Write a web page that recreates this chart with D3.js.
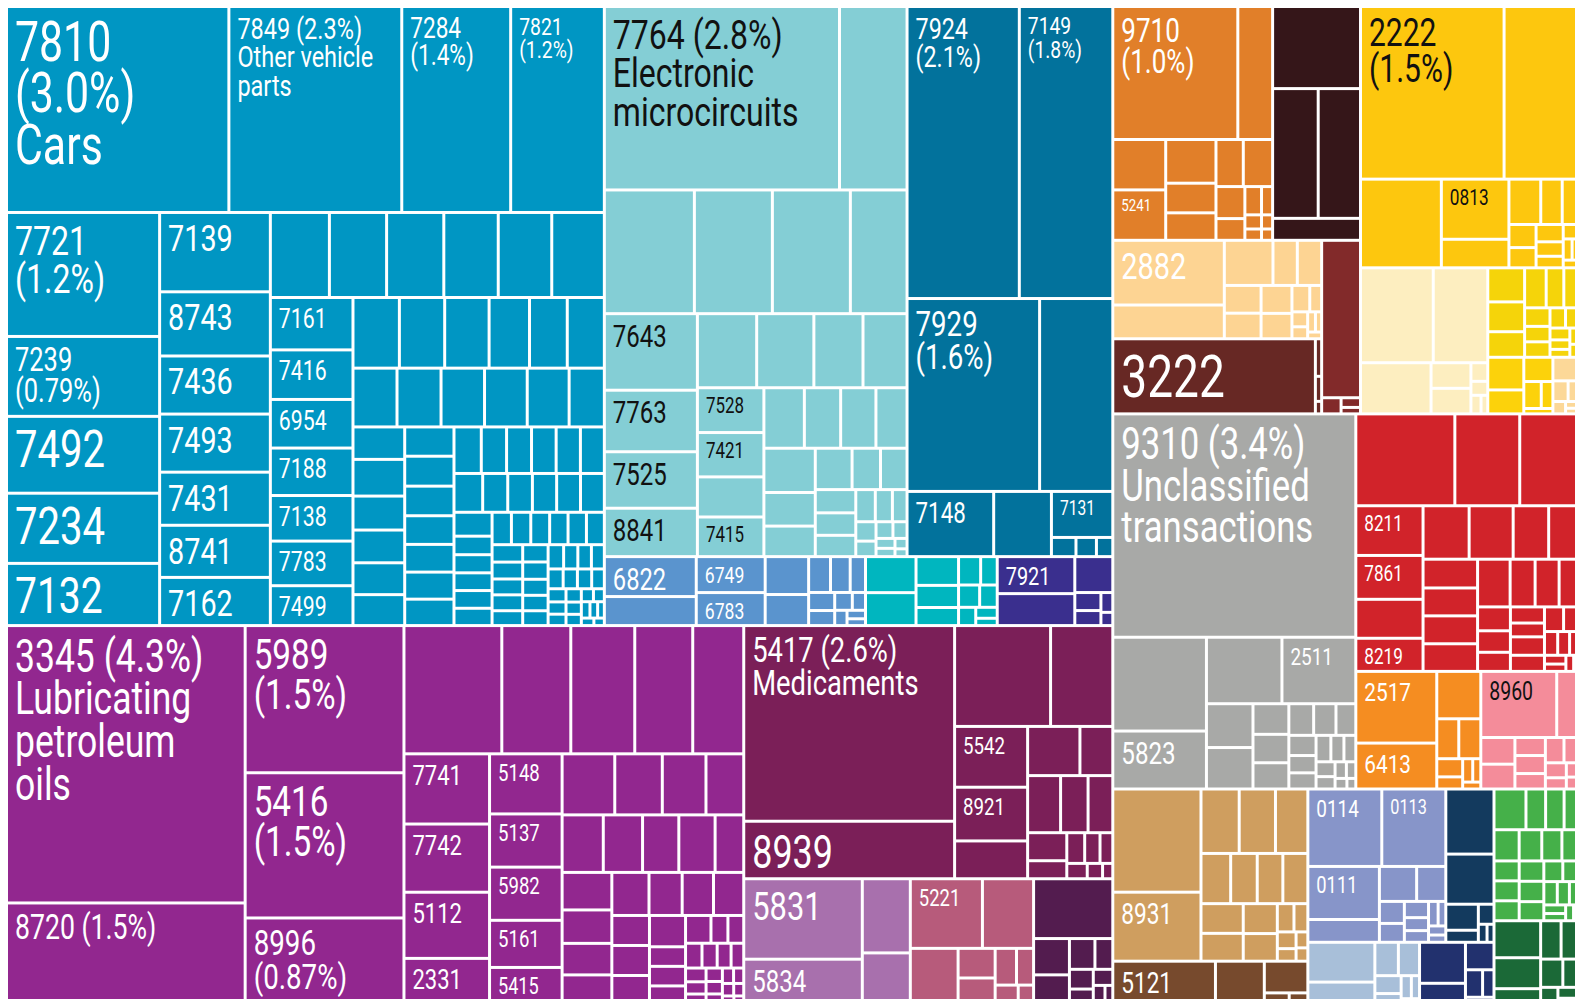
<!DOCTYPE html>
<html>
<head>
<meta charset="utf-8">
<script src="https://cdn.jsdelivr.net/npm/d3@7"></script>
<style>
  html, body { margin: 0; padding: 0; background: #fff; }
  svg { display: block; }
  text { font-family: Roboto, "DejaVu Sans Condensed", sans-serif; }
</style>
</head>
<body>
<svg id="chart" width="1575" height="999"></svg>
<script>
// export shares (% of total), in reading order
const transportCodes = ['7810','7849','7284','7821','7721','7239','7492','7234','7132','7139','8743','7436','7493','7431','8741','7162','','','','','','','7161','7416','6954','7188','7138','7783','7499'];
const transportValues = [2.92,2.27,1.43,1.23, 1.21,0.78,0.75,0.685,0.607, 0.56,0.453,0.41,0.41,0.375,0.368,0.34,
  0.32,0.31,0.31,0.295,0.29,0.285, 0.276,0.261,0.256,0.25,0.24,0.235,0.21,
  0.209,0.204,0.2,0.182,0.17,0.167, 0.165,0.165,0.163,0.16,0.157,0.132,0.107,
  0.121,0.112,0.108,0.105,0.102,0.092, 0.094,0.093,0.09,0.087,0.085,0.083,0.081,
  0.075,0.074,0.073,0.072,0.071,0.071, 0.062,0.061,0.06,0.059,0.059,0.058,
  0.045,0.044,0.043,0.043,0.042, 0.04,0.04,0.039,0.038,0.038,0.037,
  0.034,0.033,0.031,0.031,0.029,0.028,0.028,0.026,0.025,0.024,0.024,0.022,0.021,0.02,0.019,0.018,
  0.018,0.016,0.015,0.014,0.013,0.013,0.012,0.011,0.01,0.009,0.009,0.008,0.007,0.006,0.005];

const electronicsCodes = ['7764','','','','','','7643','7763','7525','8841','','','','','7528','7421','','7415'];
const electronicsValues = [2.75,0.79, 0.71,0.615,0.615,0.447, 0.454,0.365,0.335,0.287, 0.28,0.27,0.232,0.208,
  0.19,0.188,0.17,0.168, 0.156,0.14,0.136,0.12, 0.145,0.11,0.1,0.097,0.075,0.07,0.06,0.058,0.055,
  0.04,0.035,0.03,0.025,0.02,0.018,0.015,0.012,0.01,0.008,0.006];

const aircraftCodes = ['7924','7149','7929','','7148','','7131'];
const aircraftValues = [2.09,1.74,1.63,0.9,0.36,0.24,0.18,0.03,0.025,0.02];

const metalCodes = ['6822','','6749','6783'];
const metalValues = [0.234,0.17,0.158,0.145,0.105,0.086,0.05,0.045,0.035,0.03,0.025,0.02,0.015,0.012,0.01,0.008];
const instrumentValues = [0.116,0.106,0.078,0.06,0.049,0.04,0.03,0.03,0.025,0.02,0.015,0.01];
const shipCodes = ['7921'];
const shipValues = [0.183,0.158,0.087,0.03,0.025,0.015,0.01];

const oilCodes = ['3345','8720','5989','5416','8996','','','','','','7741','7742','5112','2331','5148','5137','5982','5161','5415'];
const oilValues = [4.22,1.56,1.49,1.47,0.886, 0.80,0.564,0.523,0.474,0.417, 0.383,0.372,0.361,0.257,
  0.278,0.246,0.246,0.218,0.176, 0.205,0.185,0.17,0.147, 0.151,0.144,0.133,0.133,0.105,
  0.119,0.106,0.1,0.097, 0.102,0.091,0.086,0.083, 0.072,0.072,0.072,0.072, 0.045,0.045,0.045,0.045,
  0.03,0.028,0.026,0.024,0.022,0.02,0.018,0.016,0.015,0.014,0.013,0.012,0.011,0.01,0.009,0.008,0.007,0.006];

const pharmaCodes = ['5417','8939','','','5542','8921'];
const pharmaValues = [2.63,0.773,0.617,0.40,0.283,0.25,0.176,0.164,0.103,0.12,0.1,0.09,0.07,0.045,0.035,0.03,0.025,0.02,0.015,0.01];
const plasticCodes = ['5831','5834'];
const plasticValues = [0.608,0.35,0.227,0.161];
const fertilizerCodes = ['5221'];
const fertilizerValues = [0.32,0.227,0.174,0.07,0.065,0.05,0.04,0.03,0.02];
const dyeValues = [0.302,0.083,0.07,0.05,0.035,0.03,0.025,0.02,0.015,0.01];

const goldCodes = ['9710','','','5241'];
const goldValues = [1.06,0.295,0.17,0.17,0.14,0.095,0.088,0.082,0.088,0.059,0.04,0.03,0.02,0.015,0.012,0.01,0.008];
const oreValues = [0.46,0.377,0.35,0.123];
const scrapCodes = ['2882'];
const scrapValues = [0.46,0.24,0.14,0.07,0.07,0.065,0.06,0.055,0.05,0.03,0.02,0.015,0.012,0.01,0.008,0.006];
const coalCodes = ['3222'];
const coalValues = [0.97,0.015,0.01,0.005];
const ironValues = [0.39,0.02,0.012,0.008];

const oilseedCodes = ['2222','','','0813'];
const oilseedValues = [1.58,0.83,0.457,0.259,0.123,0.092,0.062,0.05,0.04,0.035,0.03,0.025,0.02,0.015,0.012,0.01,0.008];
const cerealValues = [0.44,0.33,0.23,0.065,0.065,0.02,0.015,0.012,0.008];
const fruitValues = [0.08,0.07,0.06,0.055,0.045,0.04,0.03,0.025,0.025,0.02,0.018,0.015,0.012,0.01,0.01,0.008];
const vegetableValues = [0.075,0.055,0.045,0.03,0.02,0.01];
const sugarValues = [0.04,0.02,0.015,0.01,0.006,0.005];

const unclassifiedCodes = ['9310','','5823','','2511'];
const unclassifiedValues = [3.46,0.56,0.346,0.32,0.313,0.13,0.123,0.07,0.065,0.06,0.05,0.045,0.04,0.035,0.03,0.028,0.025,0.022,0.02,0.018,0.015,0.012,0.01,0.008,0.006];

const furnitureCodes = ['','','','8211','7861','','8219'];
const furnitureValues = [0.58,0.38,0.35,0.213,0.188,0.167,0.142,0.157,0.15,0.121,0.105,0.1,0.097,0.097,0.096,0.099,0.076,0.073,0.062,
  0.05,0.045,0.04,0.035,0.03,0.04,0.035,0.03,0.025,0.02,0.018,0.015,0.012,0.01,0.008,0.006];
const paperCodes = ['2517','6413'];
const paperValues = [0.37,0.237,0.133,0.056,0.056,0.03,0.02,0.015,0.012,0.008];
const artCodes = ['8960'];
const artValues = [0.32,0.096,0.058,0.054,0.035,0.035,0.03,0.03,0.025,0.02,0.015,0.012,0.01];

const plasticArticleCodes = ['','8931'];
const plasticArticleValues = [0.58,0.388,0.157,0.149,0.133,0.095,0.085,0.082,0.08,0.08,0.075,0.065,0.06,0.03,0.025,0.02,0.015,0.012,0.01];
const alcoholCodes = ['5121'];
const alcoholValues = [0.29,0.138,0.088,0.02,0.015];

const meatCodes = ['0114','0113','0111'];
const meatValues = [0.365,0.316,0.242,0.104,0.083,0.065,0.035,0.03,0.025,0.02,0.018,0.015,0.012,0.01,0.008];
const fishValues = [0.2,0.154,0.054,0.025,0.02,0.01,0.008];
const dairyValues = [0.17,0.1,0.05,0.045,0.03,0.02,0.015,0.012,0.008];
const seafoodValues = [0.12,0.065,0.05,0.03,0.02,0.015];
const produceValues = [0.083,0.051,0.048,0.04,0.05,0.045,0.04,0.035,0.032,0.032,0.032,0.032,0.032,0.03,0.025,0.022,0.02,0.018,0.015,0.012,0.01,0.008,0.006];
const beverageValues = [0.11,0.092,0.05,0.05,0.045,0.04,0.03,0.02,0.015,0.01];

// sections and the groups inside them, in layout order
const sectionNames = ['machinery','chemicals','minerals','agriculture','unclassified','furniture','plastics','meat','produce'];
const sectionGroups = [
  ['transport','electronics','aircraft','metal','instruments','ships'],
  ['oils','pharma','plastic','fertilizer','dye'],
  ['gold','ore','scrap','coal','iron'],
  ['oilseed','cereal','fruit','vegetable','sugar'],
  ['unclassified'],
  ['furniture','paper','art'],
  ['plasticArticle','alcohol'],
  ['meat','fish','dairy','seafood'],
  ['produce','beverage']
];

const groupValues = {
  transport: transportValues, electronics: electronicsValues, aircraft: aircraftValues, metal: metalValues,
  instruments: instrumentValues, ships: shipValues, oils: oilValues, pharma: pharmaValues, plastic: plasticValues,
  fertilizer: fertilizerValues, dye: dyeValues, gold: goldValues, ore: oreValues, scrap: scrapValues, coal: coalValues,
  iron: ironValues, oilseed: oilseedValues, cereal: cerealValues, fruit: fruitValues, vegetable: vegetableValues,
  sugar: sugarValues, unclassified: unclassifiedValues, furniture: furnitureValues, paper: paperValues, art: artValues,
  plasticArticle: plasticArticleValues, alcohol: alcoholValues, meat: meatValues, fish: fishValues, dairy: dairyValues,
  seafood: seafoodValues, produce: produceValues, beverage: beverageValues
};
const groupCodes = {
  transport: transportCodes, electronics: electronicsCodes, aircraft: aircraftCodes, metal: metalCodes, ships: shipCodes,
  oils: oilCodes, pharma: pharmaCodes, plastic: plasticCodes, fertilizer: fertilizerCodes, gold: goldCodes,
  scrap: scrapCodes, coal: coalCodes, oilseed: oilseedCodes, unclassified: unclassifiedCodes, furniture: furnitureCodes,
  paper: paperCodes, art: artCodes, plasticArticle: plasticArticleCodes, alcohol: alcoholCodes, meat: meatCodes
};

// label text, line by line
const labelLines = {
  '7810': ['7810', '(3.0%)', 'Cars'],
  '7849': ['7849 (2.3%)', 'Other vehicle', 'parts'],
  '7284': ['7284', '(1.4%)'],
  '7821': ['7821', '(1.2%)'],
  '7721': ['7721', '(1.2%)'],
  '7239': ['7239', '(0.79%)'],
  '7764': ['7764 (2.8%)', 'Electronic', 'microcircuits'],
  '7924': ['7924', '(2.1%)'],
  '7149': ['7149', '(1.8%)'],
  '7929': ['7929', '(1.6%)'],
  '3345': ['3345 (4.3%)', 'Lubricating', 'petroleum', 'oils'],
  '8720': ['8720 (1.5%)'],
  '5989': ['5989', '(1.5%)'],
  '5416': ['5416', '(1.5%)'],
  '8996': ['8996', '(0.87%)'],
  '5417': ['5417 (2.6%)', 'Medicaments'],
  '9710': ['9710', '(1.0%)'],
  '2222': ['2222', '(1.5%)'],
  '9310': ['9310 (3.4%)', 'Unclassified', 'transactions']
};

const groupColors = {
  transport: '#0096c3', electronics: '#84ced5', aircraft: '#02729c', metal: '#5a94ce', instruments: '#00b6bf',
  ships: '#3a2f8e', oils: '#92278f', pharma: '#7b1f58', plastic: '#a870ad', fertilizer: '#b75b7b', dye: '#531c4f',
  gold: '#e17f29', ore: '#351619', scrap: '#fdd493', coal: '#672824', iron: '#822a2a', oilseed: '#fdc70e',
  cereal: '#fdeec0', fruit: '#f5d40a', vegetable: '#fcd20b', sugar: '#fcd898', unclassified: '#a8a9a7',
  furniture: '#d1232a', paper: '#f58d21', art: '#f48c9a', plasticArticle: '#cf9e5f', alcohol: '#774a2d',
  meat: '#8795c9', fish: '#133a5e', dairy: '#a8bfd9', seafood: '#22316e', produce: '#45b049', beverage: '#1b6937'
};
const darkText = new Set(['electronics', 'oilseed', 'art']);

const W = 1570, H = 996;
const pageBottom = 991; // the page cuts the map off a little above its bottom edge
const svg = d3.select('#chart');

// keep the picture's order, no sorting
const root = d3.hierarchy({
    name: 'exports',
    children: sectionNames.map((name, i) => ({
      name: name,
      children: sectionGroups[i].map(g => ({
        name: g,
        children: groupValues[g].map((v, j) => ({ group: g, code: (groupCodes[g] || [])[j] || '', value: v }))
      }))
    }))
  })
  .sum(d => d.value || 0);

d3.treemap()
  .tile(d3.treemapSquarify)
  .size([W, H])
  .paddingInner(3)(root);

const g = svg.append('g').attr('transform', 'translate(8,8)');
const leaves = root.leaves();

g.selectAll('rect')
  .data(leaves)
  .join('rect')
  .attr('x', d => d.x0)
  .attr('y', d => d.y0)
  .attr('width', d => Math.max(0, d.x1 - d.x0))
  .attr('height', d => Math.max(0, d.y1 - d.y0))
  .attr('fill', d => groupColors[d.data.group]);

// labels: size fitted to the cell, narrowed to look like a condensed face
const capRatio = 0.711, squeeze = 0.78, pitch = 1.32;
const probe = svg.append('text').attr('font-size', 100).style('visibility', 'hidden');
function widthPerCap(s) {
  return probe.text(s).node().getComputedTextLength() / 100 * squeeze / capRatio;
}

leaves.filter(d => d.data.code).forEach(d => {
  const lines = labelLines[d.data.code] || [d.data.code];
  const w = d.x1 - d.x0, h = d.y1 - d.y0, n = lines.length;
  const named = lines.some(l => /[a-z]/i.test(l));
  const capW = (named ? 0.8 : 0.6) * w / d3.max(lines, widthPerCap);
  const capH = n === 1 ? 0.6 * h : 0.7 * h / (1 + pitch * (n - 1));
  const capEdge = (pageBottom - d.y0 - 5) / (1.22 + 0.3 + pitch * (n - 1));
  const cap = Math.min(capW, capH, capEdge, 42);

  const t = g.append('text')
    .attr('transform', 'translate(' + (d.x0 + 7) + ',' + (d.y0 + 5 + 1.22 * cap) + ') scale(' + squeeze + ',1)')
    .attr('font-size', cap / capRatio)
    .attr('fill', darkText.has(d.data.group) ? '#111' : '#fff');

  lines.forEach((l, i) => {
    t.append('tspan').attr('x', 0).attr('dy', i ? pitch * cap : 0).text(l);
  });
});

probe.remove();
</script>
</body>
</html>
